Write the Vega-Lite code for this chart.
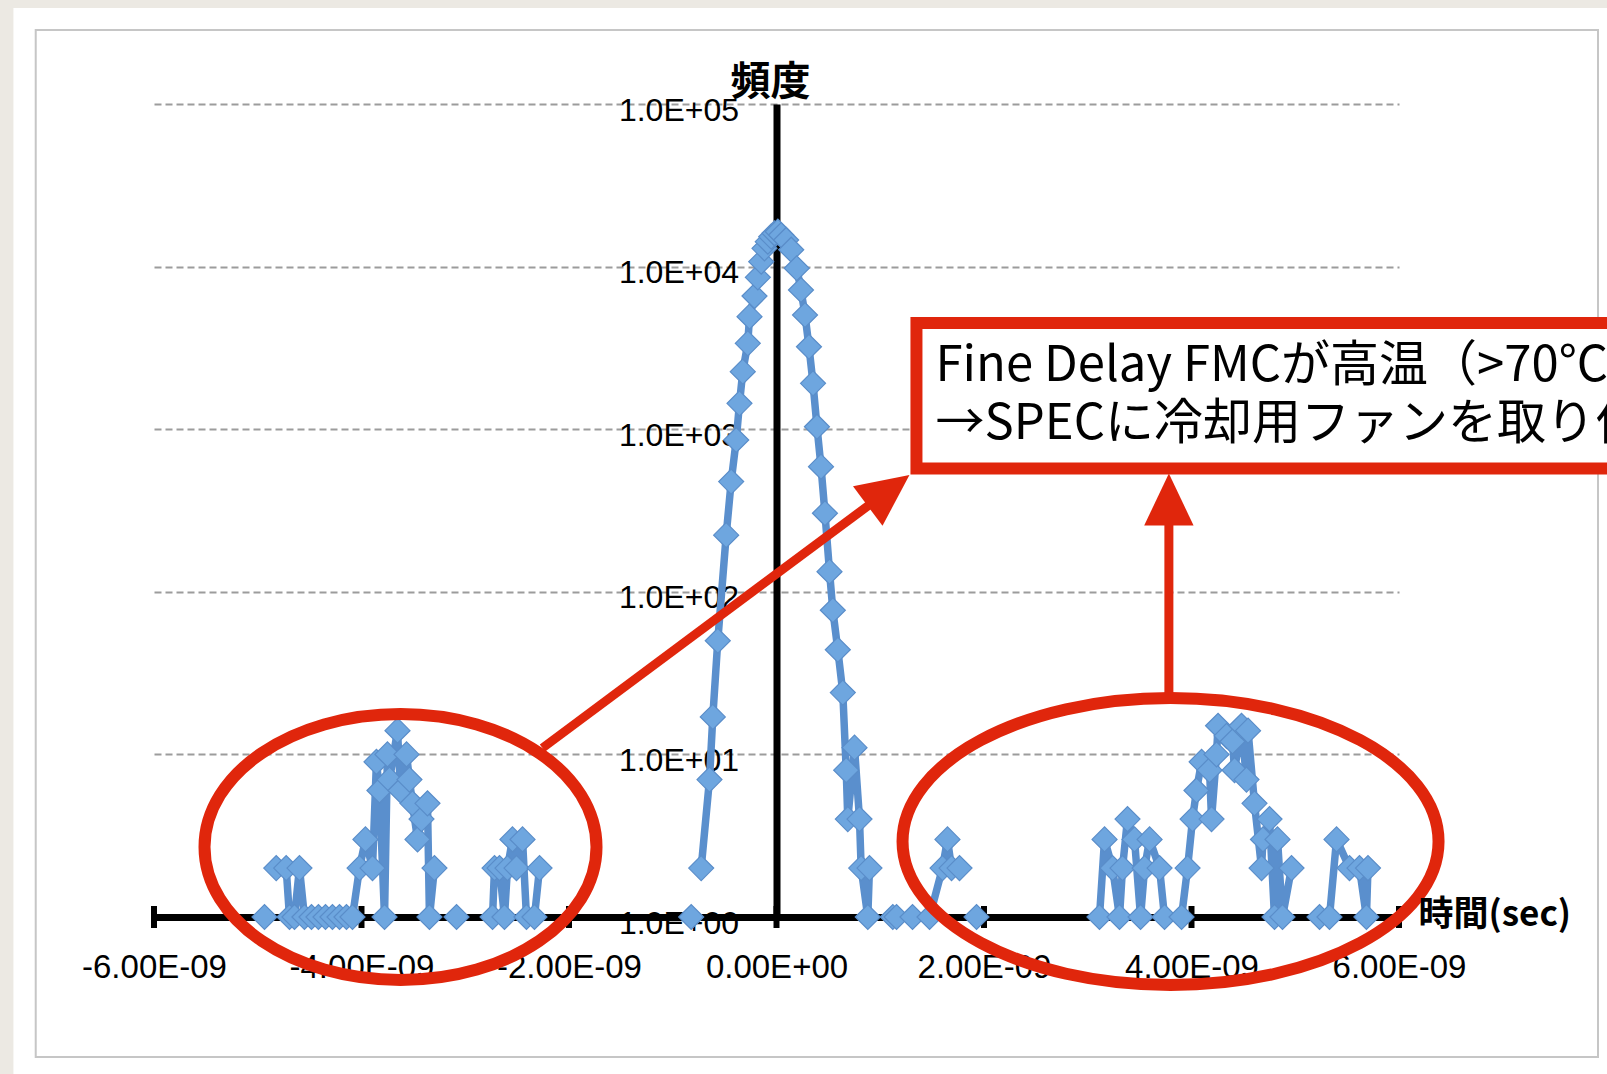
{
  "$schema": "https://vega.github.io/schema/vega-lite/v6.json",
  "width": 1245,
  "height": 813,
  "autosize": {"type": "none"},
  "padding": {"left": 154, "top": 104, "right": 208, "bottom": 157},
  "background": "#ffffff",
  "config": {"view": {"stroke": null}},
  "datasets": {
    "hist": [
      {"t": -4.935e-9, "c": 1, "run": "L1"},
      {"t": -4.822e-9, "c": 2, "run": "L2"}, {"t": -4.726e-9, "c": 2, "run": "L2"}, {"t": -4.694e-9, "c": 1, "run": "L2"},
      {"t": -4.646e-9, "c": 1, "run": "L2"}, {"t": -4.598e-9, "c": 2, "run": "L2"}, {"t": -4.550e-9, "c": 1, "run": "L2"},
      {"t": -4.482e-9, "c": 1, "run": "L2"}, {"t": -4.415e-9, "c": 1, "run": "L2"}, {"t": -4.347e-9, "c": 1, "run": "L2"},
      {"t": -4.280e-9, "c": 1, "run": "L2"}, {"t": -4.212e-9, "c": 1, "run": "L2"}, {"t": -4.145e-9, "c": 1, "run": "L2"},
      {"t": -4.087e-9, "c": 1, "run": "L2"}, {"t": -4.019e-9, "c": 2, "run": "L2"}, {"t": -3.962e-9, "c": 3, "run": "L2"},
      {"t": -3.894e-9, "c": 2, "run": "L2"}, {"t": -3.856e-9, "c": 9, "run": "L2"}, {"t": -3.827e-9, "c": 6, "run": "L2"},
      {"t": -3.778e-9, "c": 1, "run": "L2"}, {"t": -3.750e-9, "c": 10, "run": "L2"}, {"t": -3.730e-9, "c": 7, "run": "L2"},
      {"t": -3.653e-9, "c": 14, "run": "L2"}, {"t": -3.624e-9, "c": 6, "run": "L2"}, {"t": -3.566e-9, "c": 10, "run": "L2"},
      {"t": -3.538e-9, "c": 7, "run": "L2"}, {"t": -3.509e-9, "c": 5, "run": "L2"}, {"t": -3.460e-9, "c": 3, "run": "L2"},
      {"t": -3.422e-9, "c": 4, "run": "L2"}, {"t": -3.364e-9, "c": 5, "run": "L2"}, {"t": -3.345e-9, "c": 1, "run": "L2"},
      {"t": -3.297e-9, "c": 2, "run": "L2"},
      {"t": -3.084e-9, "c": 1, "run": "L3"},
      {"t": -2.737e-9, "c": 1, "run": "L4"}, {"t": -2.718e-9, "c": 2, "run": "L4"}, {"t": -2.670e-9, "c": 2, "run": "L4"},
      {"t": -2.622e-9, "c": 1, "run": "L4"}, {"t": -2.593e-9, "c": 2, "run": "L4"}, {"t": -2.545e-9, "c": 3, "run": "L4"},
      {"t": -2.506e-9, "c": 2, "run": "L4"}, {"t": -2.448e-9, "c": 3, "run": "L4"}, {"t": -2.410e-9, "c": 1, "run": "L4"},
      {"t": -2.333e-9, "c": 1, "run": "L4"}, {"t": -2.284e-9, "c": 2, "run": "L4"},
      {"t": -0.822e-9, "c": 1, "run": "P0"},
      {"t": -0.726e-9, "c": 2, "run": "P1"}, {"t": -0.646e-9, "c": 7, "run": "P1"}, {"t": -0.614e-9, "c": 17, "run": "P1"},
      {"t": -0.566e-9, "c": 50, "run": "P1"}, {"t": -0.485e-9, "c": 223, "run": "P1"}, {"t": -0.437e-9, "c": 476, "run": "P1"},
      {"t": -0.388e-9, "c": 858, "run": "P1"}, {"t": -0.357e-9, "c": 1443, "run": "P1"}, {"t": -0.325e-9, "c": 2259, "run": "P1"},
      {"t": -0.277e-9, "c": 3374, "run": "P1"}, {"t": -0.260e-9, "c": 4920, "run": "P1"}, {"t": -0.212e-9, "c": 6590, "run": "P1"},
      {"t": -0.180e-9, "c": 8590, "run": "P1"}, {"t": -0.147e-9, "c": 10720, "run": "P1"}, {"t": -0.116e-9, "c": 12950, "run": "P1"},
      {"t": -0.084e-9, "c": 14230, "run": "P1"}, {"t": -0.051e-9, "c": 15270, "run": "P1"}, {"t": -0.019e-9, "c": 16030, "run": "P1"},
      {"t": 0.013e-9, "c": 16400, "run": "P1"}, {"t": 0.045e-9, "c": 15640, "run": "P1"}, {"t": 0.093e-9, "c": 14580, "run": "P1"},
      {"t": 0.142e-9, "c": 12700, "run": "P1"}, {"t": 0.195e-9, "c": 9770, "run": "P1"}, {"t": 0.236e-9, "c": 7180, "run": "P1"},
      {"t": 0.275e-9, "c": 5040, "run": "P1"}, {"t": 0.313e-9, "c": 3215, "run": "P1"}, {"t": 0.352e-9, "c": 1915, "run": "P1"},
      {"t": 0.390e-9, "c": 1036, "run": "P1"}, {"t": 0.429e-9, "c": 588, "run": "P1"}, {"t": 0.467e-9, "c": 304, "run": "P1"},
      {"t": 0.511e-9, "c": 133, "run": "P1"}, {"t": 0.543e-9, "c": 77, "run": "P1"}, {"t": 0.591e-9, "c": 44, "run": "P1"},
      {"t": 0.639e-9, "c": 24, "run": "P1"}, {"t": 0.672e-9, "c": 8, "run": "P1"}, {"t": 0.687e-9, "c": 4, "run": "P1"},
      {"t": 0.752e-9, "c": 11, "run": "P1"}, {"t": 0.800e-9, "c": 4, "run": "P1"}, {"t": 0.816e-9, "c": 2, "run": "P1"},
      {"t": 0.880e-9, "c": 1, "run": "P1"}, {"t": 0.896e-9, "c": 2, "run": "P1"},
      {"t": 1.121e-9, "c": 1, "run": "R1"}, {"t": 1.157e-9, "c": 1, "run": "R1"},
      {"t": 1.311e-9, "c": 1, "run": "R2"},
      {"t": 1.475e-9, "c": 1, "run": "R3"}, {"t": 1.600e-9, "c": 2, "run": "R3"}, {"t": 1.648e-9, "c": 3, "run": "R3"},
      {"t": 1.687e-9, "c": 2, "run": "R3"}, {"t": 1.764e-9, "c": 2, "run": "R3"},
      {"t": 1.928e-9, "c": 1, "run": "R4"},
      {"t": 3.113e-9, "c": 1, "run": "R5"}, {"t": 3.162e-9, "c": 3, "run": "R5"}, {"t": 3.239e-9, "c": 2, "run": "R5"},
      {"t": 3.306e-9, "c": 1, "run": "R5"}, {"t": 3.335e-9, "c": 2, "run": "R5"}, {"t": 3.383e-9, "c": 4, "run": "R5"},
      {"t": 3.451e-9, "c": 3, "run": "R5"}, {"t": 3.509e-9, "c": 1, "run": "R5"}, {"t": 3.548e-9, "c": 2, "run": "R5"},
      {"t": 3.596e-9, "c": 3, "run": "R5"}, {"t": 3.692e-9, "c": 2, "run": "R5"}, {"t": 3.740e-9, "c": 1, "run": "R5"},
      {"t": 3.904e-9, "c": 1, "run": "R6"}, {"t": 3.962e-9, "c": 2, "run": "R6"}, {"t": 4.010e-9, "c": 4, "run": "R6"},
      {"t": 4.048e-9, "c": 6, "run": "R6"}, {"t": 4.097e-9, "c": 9, "run": "R6"}, {"t": 4.174e-9, "c": 8, "run": "R6"},
      {"t": 4.193e-9, "c": 4, "run": "R6"}, {"t": 4.241e-9, "c": 10, "run": "R6"}, {"t": 4.256e-9, "c": 15, "run": "R6"},
      {"t": 4.338e-9, "c": 13, "run": "R6"}, {"t": 4.395e-9, "c": 12, "run": "R6"}, {"t": 4.415e-9, "c": 8, "run": "R6"},
      {"t": 4.482e-9, "c": 15, "run": "R6"}, {"t": 4.530e-9, "c": 7, "run": "R6"}, {"t": 4.545e-9, "c": 14, "run": "R6"},
      {"t": 4.607e-9, "c": 5, "run": "R6"}, {"t": 4.675e-9, "c": 2, "run": "R6"}, {"t": 4.689e-9, "c": 3, "run": "R6"},
      {"t": 4.752e-9, "c": 4, "run": "R6"}, {"t": 4.800e-9, "c": 1, "run": "R6"}, {"t": 4.829e-9, "c": 3, "run": "R6"},
      {"t": 4.877e-9, "c": 1, "run": "R6"}, {"t": 4.964e-9, "c": 2, "run": "R6"},
      {"t": 5.234e-9, "c": 1, "run": "R7"}, {"t": 5.330e-9, "c": 1, "run": "R7"}, {"t": 5.398e-9, "c": 3, "run": "R7"},
      {"t": 5.523e-9, "c": 2, "run": "R7"}, {"t": 5.619e-9, "c": 2, "run": "R7"}, {"t": 5.686e-9, "c": 1, "run": "R7"},
      {"t": 5.701e-9, "c": 2, "run": "R7"}
    ],
    "xticks": [
      {"t": -6e-9, "c": 1}, {"t": -4e-9, "c": 1}, {"t": -2e-9, "c": 1}, {"t": 0, "c": 1},
      {"t": 2e-9, "c": 1}, {"t": 4e-9, "c": 1}, {"t": 6e-9, "c": 1}
    ],
    "paper": [
      {"t": -7.6e-9, "t2": 8.3e-9, "c": 389400, "c2": 600000},
      {"t": -7.6e-9, "t2": -7.355e-9, "c": 0.09, "c2": 600000}
    ],
    "frame": [{"t": -7.14e-9, "t2": 7.918e-9, "c": 0.1377, "c2": 285000}],
    "arrows": [
      {"t": -2.2555e-9, "c": 10.95, "t2": 1.0805e-9, "c2": 419.8},
      {"t": 3.782e-9, "c": 23.5, "t2": 3.782e-9, "c2": 369.6}
    ],
    "callout": [{"t": 1.349e-9, "t2": 8.4e-9, "c": 573, "c2": 4498}],
    "calloutText": [
      {"t": 1.533e-9, "c": 2448, "label": "Fine Delay FMCが高温（>70°C）\n→SPECに冷却用ファンを取り付け"}
    ]
  },
  "encoding": {
    "x": {
      "field": "t",
      "type": "quantitative",
      "scale": {"domain": [-6e-9, 6e-9], "nice": false, "zero": false},
      "axis": {
        "values": [-6e-9, -4e-9, -2e-9, 0, 2e-9, 4e-9, 6e-9],
        "title": null,
        "grid": false,
        "ticks": false,
        "tickSize": 0,
        "domainColor": "#000000",
        "domainWidth": 7,
        "domainCap": "butt",
        "labelExpr": "datum.value == 0 ? '0.00E+00' : (datum.value < 0 ? '-' : '') + format(abs(datum.value) * 1e9, '.2f') + 'E-09'",
        "labelFont": "Liberation Sans",
        "labelFontSize": 33,
        "labelColor": "#000000",
        "labelPadding": 50,
        "labelBaseline": "middle",
        "labelFlush": false,
        "labelOverlap": false,
        "labelBound": false
      }
    },
    "y": {
      "field": "c",
      "type": "quantitative",
      "scale": {"type": "log", "domain": [1, 100000], "nice": false},
      "axis": {
        "values": [1, 10, 100, 1000, 10000, 100000],
        "title": null,
        "orient": "left",
        "offset": -622.5,
        "grid": true,
        "gridColor": "#9c9c9c",
        "gridDash": [7, 4],
        "gridWidth": 2.2,
        "ticks": false,
        "tickSize": 0,
        "domainColor": "#000000",
        "domainWidth": 7,
        "domainCap": "butt",
        "labelExpr": "'1.0E+0' + round(log(datum.value) / LN10)",
        "labelFont": "Liberation Sans",
        "labelFontSize": 32,
        "labelColor": "#000000",
        "labelPadding": 38,
        "labelBaseline": "middle",
        "labelOffset": 6,
        "labelFlush": false,
        "labelOverlap": false,
        "labelBound": false
      }
    }
  },
  "layer": [
    {
      "data": {"name": "paper"},
      "mark": {"type": "rect", "fill": "#ECE9E3", "strokeWidth": 0},
      "encoding": {"x2": {"field": "t2"}, "y2": {"field": "c2"}}
    },
    {
      "data": {"name": "frame"},
      "mark": {"type": "rect", "fillOpacity": 0, "stroke": "#c6c6c6", "strokeWidth": 2},
      "encoding": {"x2": {"field": "t2"}, "y2": {"field": "c2"}}
    },
    {
      "data": {"name": "xticks"},
      "mark": {"type": "tick", "orient": "vertical", "color": "#000000", "size": 22, "thickness": 6, "opacity": 1}
    },
    {
      "data": {"name": "hist"},
      "mark": {"type": "line", "color": "#5A8FCD", "strokeWidth": 7.5, "strokeJoin": "round"},
      "encoding": {"detail": {"field": "run", "type": "nominal"}}
    },
    {
      "data": {"name": "hist"},
      "mark": {"type": "point", "shape": "diamond", "size": 625, "filled": true, "fill": "#6EA6DF", "stroke": "#5A8DC9", "strokeWidth": 1.2, "opacity": 1}
    },
    {
      "data": {"values": [{"t": -3.624e-9, "c": 2.696}]},
      "mark": {"type": "point", "shape": "M -1 0 A 1 0.6786 0 1 1 1 0 A 1 0.6786 0 1 1 -1 0 Z", "size": 153664, "filled": false, "stroke": "#E0260C", "strokeWidth": 12, "opacity": 1}
    },
    {
      "data": {"values": [{"t": 3.798e-9, "c": 2.912}]},
      "mark": {"type": "point", "shape": "M -1 0 A 1 0.5354 0 1 1 1 0 A 1 0.5354 0 1 1 -1 0 Z", "size": 287296, "filled": false, "stroke": "#E0260C", "strokeWidth": 12, "opacity": 1}
    },
    {
      "data": {"name": "callout"},
      "mark": {"type": "rect", "fill": "#ffffff", "stroke": "#E0260C", "strokeWidth": 12},
      "encoding": {"x2": {"field": "t2"}, "y2": {"field": "c2"}}
    },
    {
      "data": {"name": "calloutText"},
      "mark": {"type": "text", "align": "left", "baseline": "middle", "lineBreak": "\n", "lineHeight": 58, "font": "Noto Sans CJK JP", "fontSize": 49, "color": "#000000"},
      "encoding": {"text": {"field": "label"}}
    },
    {
      "data": {"name": "arrows"},
      "mark": {"type": "rule", "color": "#E0260C", "strokeWidth": 9},
      "encoding": {"x2": {"field": "t2"}, "y2": {"field": "c2"}}
    },
    {
      "data": {"values": [{"t": 1.0805e-9, "c": 419.8}]},
      "mark": {"type": "point", "shape": "M 0 -1 L 0.95 1 L -0.95 1 Z", "size": 2704, "angle": 53.35, "filled": true, "color": "#E0260C", "opacity": 1}
    },
    {
      "data": {"values": [{"t": 3.782e-9, "c": 369.6}]},
      "mark": {"type": "point", "shape": "M 0 -1 L 0.95 1 L -0.95 1 Z", "size": 2704, "angle": 0, "filled": true, "color": "#E0260C", "opacity": 1}
    },
    {
      "data": {"values": [{"t": -0.0578e-9, "c": 134600, "label": "頻度"}]},
      "mark": {"type": "text", "align": "center", "baseline": "middle", "font": "Noto Sans CJK JP", "fontWeight": "bold", "fontSize": 40, "color": "#000000"},
      "encoding": {"text": {"field": "label"}}
    },
    {
      "data": {"values": [{"t": 6.188e-9, "c": 1.029, "label": "時間(sec)"}]},
      "mark": {"type": "text", "align": "left", "baseline": "middle", "font": "Noto Sans CJK JP", "fontWeight": "bold", "fontSize": 35, "color": "#000000"},
      "encoding": {"text": {"field": "label"}}
    }
  ]
}
